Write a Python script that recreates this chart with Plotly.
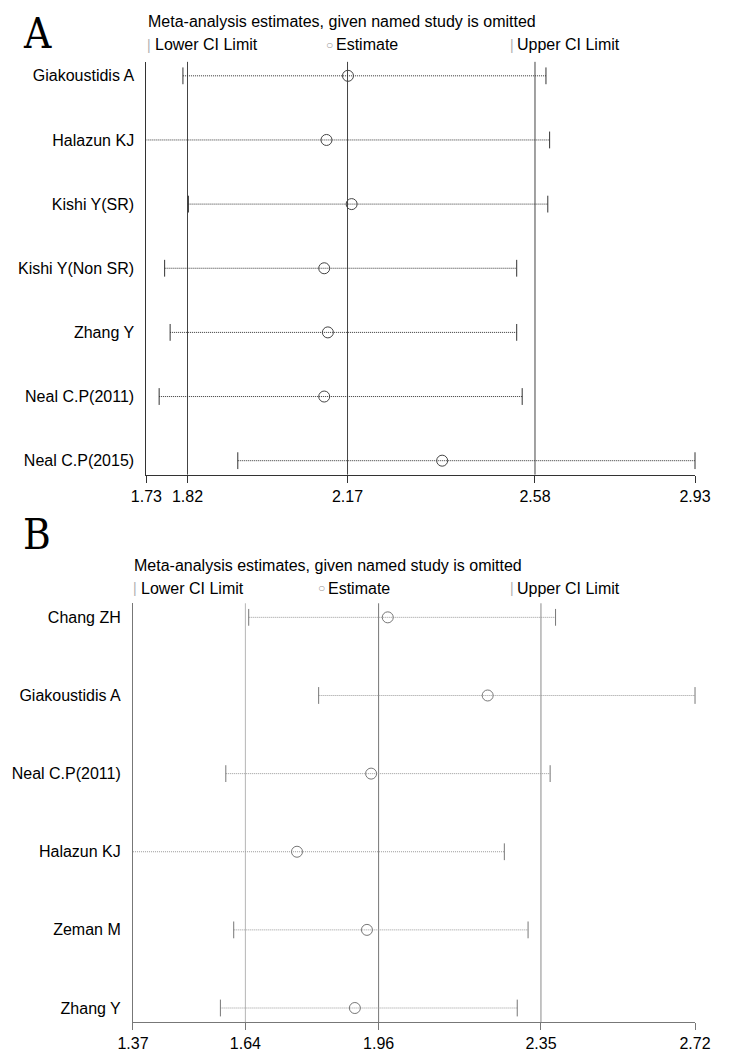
import plotly.graph_objects as go

W, H = 733, 1052
OFF = 8  # page body margin the figure sits inside
FW, FH = W - OFF, H - OFF

# panel A: leave-one-out estimates
studies_a = ["Giakoustidis A", "Halazun KJ", "Kishi Y(SR)", "Kishi Y(Non SR)",
             "Zhang Y", "Neal C.P(2011)", "Neal C.P(2015)"]
est_a = [2.171, 2.124, 2.179, 2.119, 2.127, 2.119, 2.377]
lower_a = [1.810, 1.73, 1.822, 1.770, 1.782, 1.758, 1.930]
upper_a = [2.604, 2.612, 2.608, 2.540, 2.540, 2.552, 2.93]
overall_a = [1.82, 2.17, 2.58]
ticks_a = [1.73, 1.82, 2.17, 2.58, 2.93]

# panel B
studies_b = ["Chang ZH", "Giakoustidis A", "Neal C.P(2011)", "Halazun KJ",
             "Zeman M", "Zhang Y"]
est_b = [1.982, 2.222, 1.942, 1.764, 1.932, 1.903]
lower_b = [1.648, 1.816, 1.593, 1.37, 1.612, 1.580]
upper_b = [2.385, 2.72, 2.372, 2.262, 2.319, 2.293]
overall_b = [1.64, 1.96, 2.35]
ticks_b = [1.37, 1.64, 1.96, 2.35, 2.72]

FONT = "Liberation Sans"
FS = 16


def px(x):
    return (x - OFF) / FW


def py(y):
    return 1 - (y - OFF) / FH


def add_panel(fig, n, studies, est, lower, upper, overall, ticks, colors,
              xdom, ydom, yrange):
    xa = "x" if n == 1 else "x2"
    ya = "y" if n == 1 else "y2"
    rows = list(range(len(studies)))

    # CI lines
    xs, ys = [], []
    for i, (lo, hi) in enumerate(zip(lower, upper)):
        xs += [lo, hi, None]
        ys += [i, i, None]
    fig.add_trace(go.Scatter(x=xs, y=ys, mode="lines", xaxis=xa, yaxis=ya,
                             line=dict(color=colors["ci"], width=1, dash="1px,1px"),
                             hoverinfo="skip", cliponaxis=False))
    # caps (none where the limit sits on the axis itself)
    caps_x, caps_y = [], []
    for i, (lo, hi) in enumerate(zip(lower, upper)):
        for v in (lo, hi):
            if v != ticks[0]:
                caps_x.append(v)
                caps_y.append(i)
    fig.add_trace(go.Scatter(x=caps_x, y=caps_y, mode="markers", xaxis=xa, yaxis=ya,
                             marker=dict(symbol="line-ns", size=12, color=colors["cap"],
                                         line=dict(width=1, color=colors["cap"])),
                             hoverinfo="skip", cliponaxis=False))
    # estimates
    fig.add_trace(go.Scatter(x=est, y=rows, mode="markers", xaxis=xa, yaxis=ya,
                             marker=dict(symbol="circle-open", size=11,
                                         color=colors["est"],
                                         line=dict(width=1, color=colors["est"])),
                             cliponaxis=False))
    # overall estimate + CI reference lines
    for v, c in zip(overall, colors["ref"]):
        fig.add_shape(type="line", xref=xa, yref=ya + " domain", x0=v, x1=v,
                      y0=0, y1=1, line=dict(color=c, width=1), layer="below")

    axis_x = dict(domain=xdom, range=[ticks[0], ticks[-1]], tickvals=ticks,
                  ticktext=[f"{t:.2f}" for t in ticks], showgrid=False,
                  zeroline=False, showline=True, linecolor=colors["axis"],
                  linewidth=1, ticks="outside", ticklen=7, tickcolor=colors["axis"],
                  tickfont=dict(family=FONT, size=FS, color="black"),
                  anchor=ya)
    axis_y = dict(domain=ydom, range=yrange, tickvals=rows, ticktext=studies,
                  showgrid=False, zeroline=False, showline=True,
                  linecolor=colors["axis"], linewidth=1, ticks="",
                  ticklabelstandoff=8,
                  tickfont=dict(family=FONT, size=FS, color="black"), anchor=xa)
    if n == 1:
        fig.update_layout(xaxis=axis_x, yaxis=axis_y)
    else:
        fig.update_layout(xaxis2=axis_x, yaxis2=axis_y)


fig = go.Figure()

colors_a = dict(ci="#333333", cap="#333333", est="#444444",
                ref=["#444444", "#444444", "#444444"], axis="#333333")
colors_b = dict(ci="#999999", cap="#777777", est="#777777",
                ref=["#b5b5b5", "#777777", "#8a8a8a"], axis="#777777")

add_panel(fig, 1, studies_a, est_a, lower_a, upper_a, overall_a, ticks_a, colors_a,
          [px(136), px(710)], [py(476), py(62)], [6.218, -0.218])
add_panel(fig, 2, studies_b, est_b, lower_b, upper_b, overall_b, ticks_b, colors_b,
          [px(122), px(710)], [py(1025), py(605)], [5.18, -0.18])

ann = []


def txt(x, y, s, size=FS, color="black", family=FONT, yanchor="middle"):
    ann.append(dict(x=px(x), y=py(y), xref="paper", yref="paper", text=s,
                    showarrow=False, xanchor="left", yanchor=yanchor, borderpad=0,
                    font=dict(family=family, size=size, color=color)))


# panel letters
LETTER_FONT = "DejaVu Serif Condensed, Liberation Serif, serif"
txt(6, OFF, "A", size=42, family=LETTER_FONT, yanchor="top")
txt(6, 510, "B", size=42, family=LETTER_FONT, yanchor="top")

for y0, x_bar1, x_c, x_bar2 in [(22, 139, 329, 518), (567, 124, 321, 518)]:
    txt(x_bar1 - 2, y0, "Meta-analysis estimates, given named study is omitted")
    yl = y0 + 23
    txt(x_bar1 - 3, yl, "|", color="#b0b0b0", size=14)
    txt(x_bar1 + 5, yl, "Lower CI Limit")
    txt(x_c - 6, yl, "○", color="#999999", size=12)
    txt(x_c + 4, yl, "Estimate")
    txt(x_bar2 - 3, yl, "|", color="#b0b0b0", size=14)
    txt(x_bar2 + 5, yl, "Upper CI Limit")

fig.update_layout(width=FW, height=FH, margin=dict(l=0, r=0, t=0, b=0),
                  plot_bgcolor="white", paper_bgcolor="white", showlegend=False,
                  annotations=ann)

fig.write_html("out.html")
